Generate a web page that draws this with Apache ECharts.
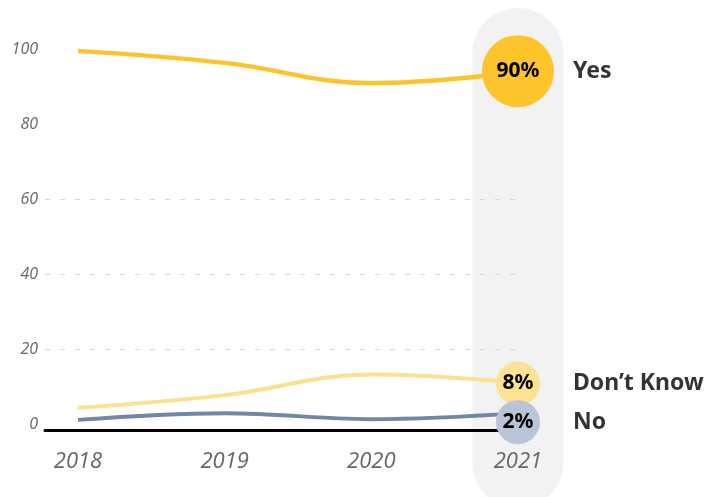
<!DOCTYPE html>
<html><head><meta charset="utf-8">
<script src="https://cdn.jsdelivr.net/npm/echarts@6/dist/echarts.min.js"></script>
<style>html,body{margin:0;padding:0;background:#fff}#c{width:713px;height:497px}</style>
</head><body><div id="c"></div>
<script>
const years = [2018, 2019, 2020, 2021];
const yesValues = [99.5, 96.3, 90.9, 93.8];
const dontKnowValues = [4.3, 7.7, 13.2, 11];
const noValues = [1.1, 2.9, 1.3, 2.9];
const bubbleValues = [94.1, 10.8, 0.5];
const bubbleLabels = ['90%', '8%', '2%'];
const seriesNames = ['Yes', 'Don\u2019t Know', 'No'];
const gridValues = [20, 40, 60];

const lineColors = ['#fdc42a', '#fbe08e', '#7286a8'];
const bubbleColors = ['#fdc52b', '#fce293', '#b9c5d6'];
const bubbleSizes = [72, 44, 44];
const FONT = 'Open Sans';
const BOLD = 'Noto Sans';

const chart = echarts.init(document.getElementById('c'), null, {renderer: 'canvas'});

function pts(vals) { return years.map((y, i) => [y, vals[i]]); }

const lineSeries = [yesValues, dontKnowValues, noValues].map((vals, i) => ({
  type: 'line', name: seriesNames[i], data: pts(vals), smooth: 0.4,
  symbol: 'none', z: 2,
  lineStyle: {color: lineColors[i], width: i === 0 ? 4.5 : 4}
}));
lineSeries[0].markLine = {
  silent: true, symbol: 'none', label: {show: false},
  lineStyle: {type: [5, 10], color: '#d6d6d6', width: 1},
  data: gridValues.map(v => ({yAxis: v}))
};

const option = {
  animation: false,
  grid: {left: 45, right: 193, top: 49, bottom: 73},
  xAxis: {
    type: 'value', min: 2017.775, max: 2021.014, offset: 6,
    axisLine: {show: true, onZero: false, lineStyle: {color: '#000', width: 3}},
    axisTick: {show: false},
    splitLine: {show: false},
    axisLabel: {
      customValues: years, margin: 21,
      formatter: v => String(v),
      fontSize: 22, fontStyle: 'italic', color: '#666', fontFamily: FONT
    }
  },
  yAxis: {
    type: 'value', min: 0, max: 100, interval: 20,
    axisLine: {show: false}, axisTick: {show: false},
    splitLine: {show: false},
    axisLabel: {margin: 7, fontSize: 16, fontStyle: 'italic', color: '#666', fontFamily: FONT}
  },
  series: lineSeries.concat([
    {
      type: 'scatter', z: 3,
      data: bubbleValues.map((v, i) => ({
        value: [years[3], v], symbolSize: bubbleSizes[i],
        itemStyle: {color: bubbleColors[i], opacity: 1},
        label: {show: true, position: 'inside', formatter: bubbleLabels[i],
          fontSize: 21, fontWeight: 'bold', color: '#000', fontFamily: BOLD}
      }))
    },
    {
      type: 'scatter', z: 3, symbolSize: 0,
      data: bubbleValues.map((v, i) => ({
        value: [years[3], v],
        label: {show: true, position: 'right', distance: 55, formatter: seriesNames[i],
          fontSize: 23, fontWeight: 'bold', color: '#000', fontFamily: BOLD}
      }))
    }
  ])
};
chart.setOption(option);

const cx = chart.convertToPixel({xAxisIndex: 0}, years[3]);
chart.setOption({
  graphic: [{
    type: 'rect', z: -10, silent: true,
    shape: {x: cx - 45.5, y: 8, width: 91, height: 500, r: 45.5},
    style: {fill: '#f2f2f2'}
  }]
});
</script>
</body></html>
